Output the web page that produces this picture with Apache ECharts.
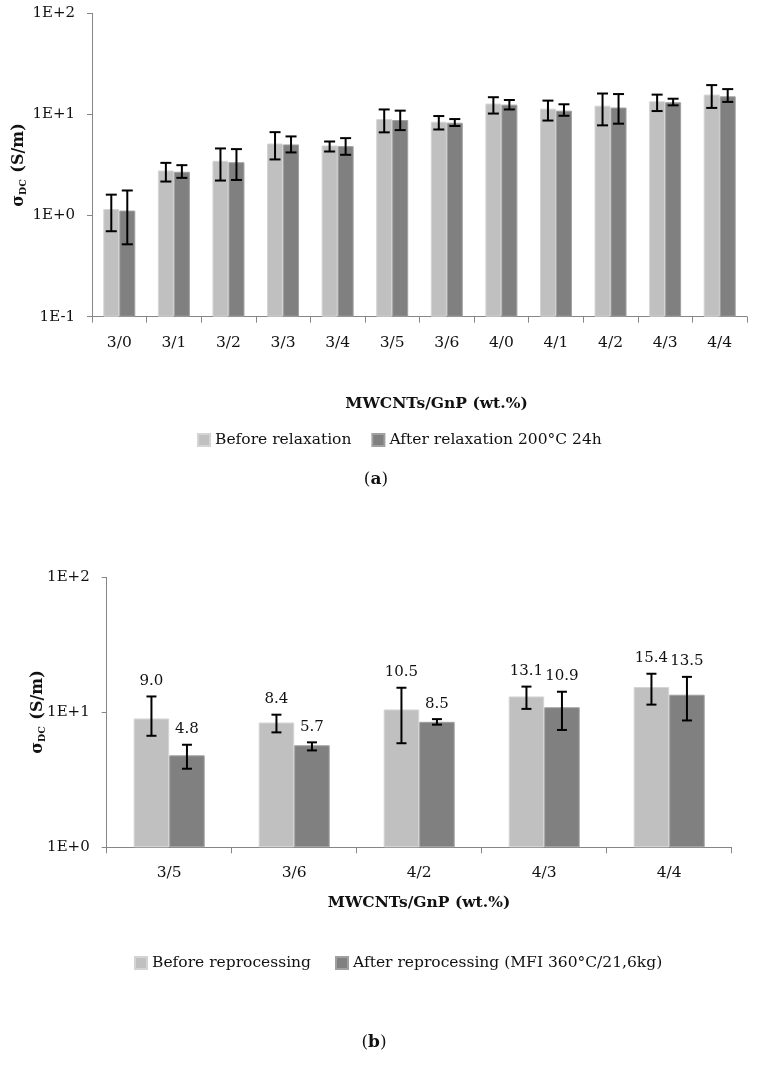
<!DOCTYPE html>
<html><head><meta charset="utf-8">
<script src="https://cdn.jsdelivr.net/npm/echarts@6/dist/echarts.min.js"></script>
<style>html,body{margin:0;padding:0;background:#fff}#c{width:762px;height:1066px}</style>
</head><body><div id="c"></div>
<script>
// ---- Chart (a) data ----
const catsA = ['3/0','3/1','3/2','3/3','3/4','3/5','3/6','4/0','4/1','4/2','4/3','4/4'];
const seriesA1Name = 'Before relaxation';
const seriesA2Name = 'After relaxation 200°C 24h';
const beforeA = [1.16, 2.79, 3.48, 5.16, 4.93, 9.0, 8.47, 12.8, 11.4, 12.2, 13.5, 15.7];
const beforeALow = [0.70, 2.17, 2.22, 3.59, 4.30, 6.65, 7.10, 10.2, 8.7, 7.8, 10.8, 11.6];
const beforeAHigh = [1.61, 3.32, 4.61, 6.68, 5.40, 11.2, 9.64, 14.8, 13.7, 16.1, 15.7, 19.5];
const afterA = [1.12, 2.71, 3.37, 5.05, 4.86, 8.8, 8.28, 12.5, 10.9, 11.7, 13.2, 15.1];
const afterALow = [0.52, 2.36, 2.25, 4.21, 3.99, 7.0, 7.68, 11.2, 9.7, 8.1, 12.3, 13.3];
const afterAHigh = [1.77, 3.15, 4.54, 6.06, 5.83, 10.9, 9.0, 13.9, 12.6, 15.9, 14.3, 17.8];

// ---- Chart (b) data ----
const catsB = ['3/5','3/6','4/2','4/3','4/4'];
const seriesB1Name = 'Before reprocessing';
const seriesB2Name = 'After reprocessing (MFI 360°C/21,6kg)';
const beforeB = [9.0, 8.4, 10.5, 13.1, 15.4];
const beforeBLow = [6.7, 7.1, 5.9, 10.6, 11.4];
const beforeBHigh = [13.1, 9.6, 15.2, 15.5, 19.3];
const afterB = [4.8, 5.7, 8.5, 10.9, 13.5];
const afterBLow = [3.82, 5.22, 8.1, 7.4, 8.7];
const afterBHigh = [5.75, 5.99, 8.9, 14.2, 18.3];

const FONT = 'DejaVu Serif';
const AXIS_COLOR = '#868686';
const LIGHT = '#c0c0c0';
const DARK = '#808080';

function expLabel(v) {
  const e = Math.round(Math.log10(v));
  return '1E' + (e >= 0 ? '+' : '-') + Math.abs(e);
}

function errSeries(xIdx, yIdx, cats, low, high, offset, cap, labels) {
  const data = cats.map((c, i) => [i, low[i], high[i]]);
  return {
    type: 'custom', xAxisIndex: xIdx, yAxisIndex: yIdx, data: data, z: 10, silent: true,
    encode: { x: 0, y: [1, 2] },
    renderItem: function (params, api) {
      const i = api.value(0);
      const pLo = api.coord([i, api.value(1)]);
      const pHi = api.coord([i, api.value(2)]);
      const x = pLo[0] + offset;
      const st = { stroke: '#000', lineWidth: 2 };
      const ch = [
        { type: 'line', shape: { x1: x, y1: pHi[1], x2: x, y2: pLo[1] }, style: st },
        { type: 'line', shape: { x1: x - cap, y1: pHi[1], x2: x + cap, y2: pHi[1] }, style: st },
        { type: 'line', shape: { x1: x - cap, y1: pLo[1], x2: x + cap, y2: pLo[1] }, style: st }
      ];
      if (labels) {
        ch.push({ type: 'text', style: { text: labels[i].toFixed(1), x: x, y: pHi[1] - 8,
          align: 'center', verticalAlign: 'bottom', fontSize: 15, fontFamily: FONT, fill: '#111' } });
      }
      return { type: 'group', children: ch };
    }
  };
}

const chart = echarts.init(document.getElementById('c'), null, { renderer: 'canvas' });

const axisCommonX = {
  type: 'category',
  axisLine: { lineStyle: { color: AXIS_COLOR, width: 1 } },
  axisTick: { show: true, length: 6, lineStyle: { color: AXIS_COLOR } },
  axisLabel: { color: '#111', fontFamily: FONT, fontSize: 15.5, margin: 18 }
};
const axisCommonY = {
  type: 'log', logBase: 10,
  axisLine: { show: true, lineStyle: { color: AXIS_COLOR, width: 1 } },
  axisTick: { show: true, length: 5, lineStyle: { color: AXIS_COLOR } },
  splitLine: { show: false },
  minorTick: { show: false },
  axisLabel: { color: '#111', fontFamily: FONT, fontSize: 15, margin: 17, formatter: expLabel }
};

const option = {
  backgroundColor: '#fff',
  animation: false,
  grid: [
    { left: 92, top: 13.3, width: 655, height: 303.4 },
    { left: 106.7, top: 577.3, width: 625, height: 270 }
  ],
  xAxis: [
    Object.assign({}, axisCommonX, { gridIndex: 0, data: catsA }),
    Object.assign({}, axisCommonX, { gridIndex: 1, data: catsB })
  ],
  yAxis: [
    Object.assign({}, axisCommonY, { gridIndex: 0, min: 0.1, max: 100, startValue: 0.1 }),
    Object.assign({}, axisCommonY, { gridIndex: 1, min: 1, max: 100, startValue: 1 })
  ],
  legend: [
    { data: [seriesA1Name, seriesA2Name], left: 192, top: 427, itemWidth: 12, itemHeight: 12,
      itemGap: 20, icon: 'rect', textStyle: { fontFamily: FONT, fontSize: 15.5, color: '#111' } },
    { data: [seriesB1Name, seriesB2Name], left: 129, top: 950, itemWidth: 12, itemHeight: 12,
      itemGap: 24, icon: 'rect', textStyle: { fontFamily: FONT, fontSize: 15.5, color: '#111' } }
  ],
  series: [
    { name: seriesA1Name, type: 'bar', xAxisIndex: 0, yAxisIndex: 0, data: beforeA, barWidth: 16, barGap: '0%',
      itemStyle: { color: LIGHT, borderColor: '#d4d4d4', borderWidth: 1 } },
    { name: seriesA2Name, type: 'bar', xAxisIndex: 0, yAxisIndex: 0, data: afterA, barWidth: 16, barGap: '0%',
      itemStyle: { color: DARK, borderColor: '#a0a0a0', borderWidth: 1 } },
    errSeries(0, 0, catsA, beforeALow, beforeAHigh, -8, 5.5, null),
    errSeries(0, 0, catsA, afterALow, afterAHigh, 8, 5.5, null),
    { name: seriesB1Name, type: 'bar', xAxisIndex: 1, yAxisIndex: 1, data: beforeB, barWidth: 35.5, barGap: '0%',
      itemStyle: { color: LIGHT, borderColor: '#d4d4d4', borderWidth: 1 } },
    { name: seriesB2Name, type: 'bar', xAxisIndex: 1, yAxisIndex: 1, data: afterB, barWidth: 35.5, barGap: '0%',
      itemStyle: { color: DARK, borderColor: '#a0a0a0', borderWidth: 1 } },
    errSeries(1, 1, catsB, beforeBLow, beforeBHigh, -17.75, 5, beforeB),
    errSeries(1, 1, catsB, afterBLow, afterBHigh, 17.75, 5, afterB)
  ],
  graphic: [
    { type: 'text', x: 436.5, y: 404, style: { text: 'MWCNTs/GnP (wt.%)', align: 'center', verticalAlign: 'middle',
      fontFamily: FONT, fontWeight: 'bold', fontSize: 15.5, fill: '#111' } },
    { type: 'text', x: 419, y: 903, style: { text: 'MWCNTs/GnP (wt.%)', align: 'center', verticalAlign: 'middle',
      fontFamily: FONT, fontWeight: 'bold', fontSize: 15.5, fill: '#111' } },
    { type: 'text', x: 19, y: 165, rotation: Math.PI / 2, style: {
      text: '{a|σ}{s|DC}{a| (S/m)}', align: 'center', verticalAlign: 'middle',
      rich: { a: { fontFamily: FONT, fontWeight: 'bold', fontSize: 16, fill: '#111', lineHeight: 20 },
              s: { fontFamily: FONT, fontWeight: 'bold', fontSize: 9.5, fill: '#111', lineHeight: 20, verticalAlign: 'bottom', padding: [6, 1, 0, 0] } } } },
    { type: 'text', x: 37.5, y: 712, rotation: Math.PI / 2, style: {
      text: '{a|σ}{s|DC}{a| (S/m)}', align: 'center', verticalAlign: 'middle',
      rich: { a: { fontFamily: FONT, fontWeight: 'bold', fontSize: 16, fill: '#111', lineHeight: 20 },
              s: { fontFamily: FONT, fontWeight: 'bold', fontSize: 9.5, fill: '#111', lineHeight: 20, verticalAlign: 'bottom', padding: [6, 1, 0, 0] } } } },
    { type: 'text', x: 376, y: 480, style: { text: '{n|(}{b|a}{n|)}', align: 'center', verticalAlign: 'middle',
      rich: { n: { fontFamily: FONT, fontSize: 17, fill: '#111' }, b: { fontFamily: FONT, fontWeight: 'bold', fontSize: 17, fill: '#111' } } } },
    { type: 'text', x: 374, y: 1043, style: { text: '{n|(}{b|b}{n|)}', align: 'center', verticalAlign: 'middle',
      rich: { n: { fontFamily: FONT, fontSize: 17, fill: '#111' }, b: { fontFamily: FONT, fontWeight: 'bold', fontSize: 17, fill: '#111' } } } }
  ]
};
chart.setOption(option);
</script>
</body></html>
